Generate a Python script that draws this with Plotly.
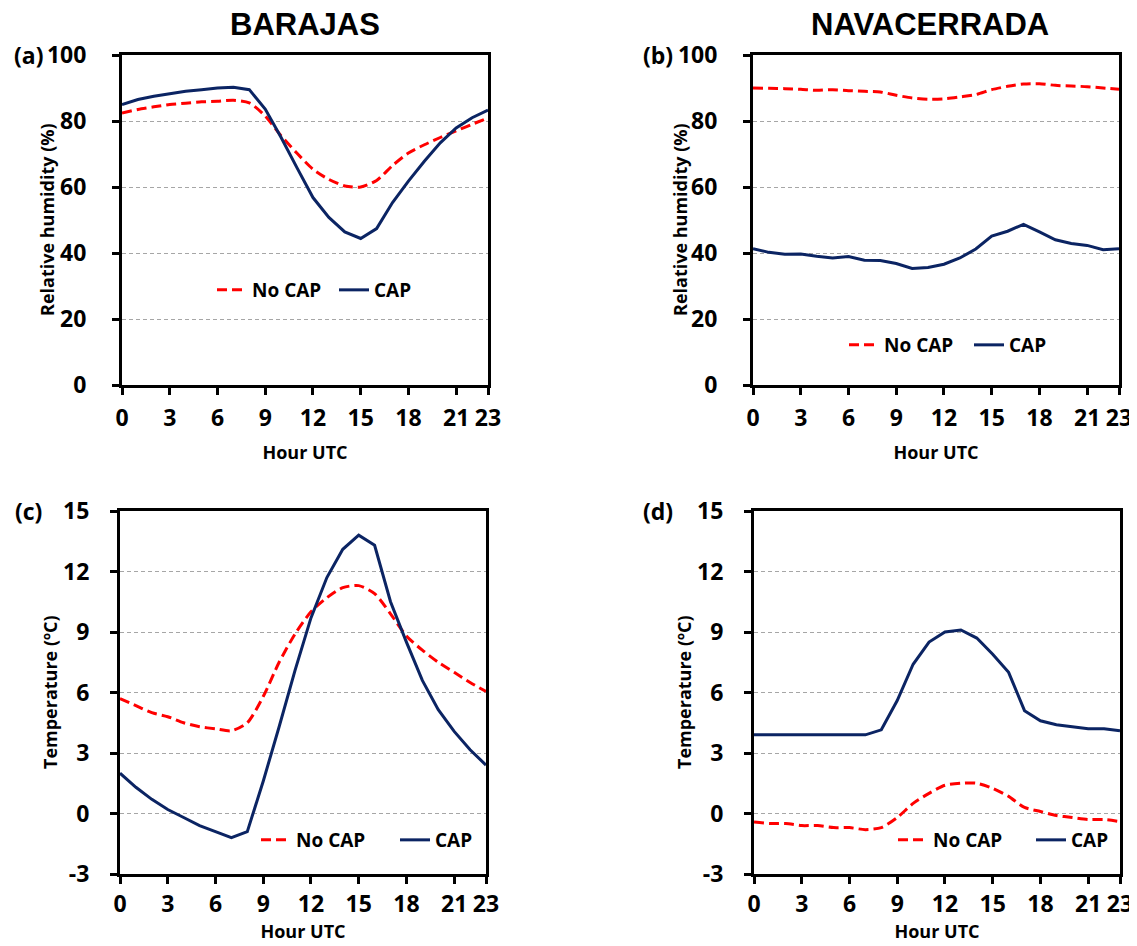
import plotly.graph_objects as go

# ---------------- data ----------------
hours = list(range(24))
x_tick_vals = [0, 3, 6, 9, 12, 15, 18, 21, 23]
rh_tick_vals = [0, 20, 40, 60, 80, 100]
t_tick_vals = [-3, 0, 3, 6, 9, 12, 15]

station_titles = ["BARAJAS", "NAVACERRADA"]
panel_labels = ["(a)", "(b)", "(c)", "(d)"]
series_names = ["No CAP", "CAP"]
x_title = "Hour UTC"
rh_title = "Relative humidity (%)"
t_title = "Temperature (ºC)"

barajas_rh_nocap = [82.4, 83.5, 84.3, 85.0, 85.4, 85.8, 86.0, 86.3, 85.5, 81.5, 75.5, 70.2,
                    65.4, 62.3, 60.3, 60.0, 62.0, 66.5, 70.3, 72.8, 75.0, 77.0, 79.0, 80.9]
barajas_rh_cap = [85.0, 86.5, 87.5, 88.3, 89.0, 89.5, 90.0, 90.2, 89.5, 83.6, 75.0, 65.8,
                  56.8, 50.8, 46.4, 44.4, 47.4, 55.3, 61.8, 67.8, 73.4, 77.9, 81.0, 83.3]

nava_rh_nocap = [90.0, 89.9, 89.8, 89.6, 89.3, 89.5, 89.2, 89.0, 88.8, 87.8, 87.0, 86.6,
                 86.7, 87.3, 88.0, 89.5, 90.5, 91.2, 91.3, 90.8, 90.6, 90.4, 90.0, 89.6]
nava_rh_cap = [41.3, 40.2, 39.6, 39.7, 39.0, 38.5, 38.9, 37.8, 37.7, 36.8, 35.3, 35.6,
               36.6, 38.5, 41.2, 45.1, 46.6, 48.7, 46.4, 44.0, 42.9, 42.3, 41.0, 41.3]

barajas_t_nocap = [5.7, 5.35, 5.0, 4.8, 4.5, 4.3, 4.2, 4.1, 4.5, 5.8, 7.5, 8.9,
                   10.0, 10.7, 11.2, 11.3, 10.9, 9.9, 8.8, 8.1, 7.5, 7.0, 6.5, 6.05]
barajas_t_cap = [2.0, 1.3, 0.7, 0.2, -0.2, -0.6, -0.9, -1.2, -0.9, 1.6, 4.3, 7.1,
                 9.7, 11.7, 13.1, 13.8, 13.3, 10.5, 8.5, 6.6, 5.15, 4.07, 3.16, 2.4]

nava_t_nocap = [-0.42, -0.5, -0.5, -0.6, -0.6, -0.7, -0.7, -0.8, -0.7, -0.2, 0.5, 1.0,
                1.4, 1.5, 1.5, 1.25, 0.85, 0.3, 0.1, -0.1, -0.2, -0.3, -0.3, -0.4]
nava_t_cap = [3.9, 3.9, 3.9, 3.9, 3.9, 3.9, 3.9, 3.9, 4.15, 5.6, 7.4, 8.5,
              9.0, 9.1, 8.7, 7.9, 7.0, 5.1, 4.6, 4.4, 4.3, 4.2, 4.2, 4.1]

# ---------------- styling ----------------
# The page body has an 8px margin, so the figure is sized to fill the window
# and every page-pixel position is shifted by that offset.
PAGE_W, PAGE_H = 1137, 946
OFF = 8
W, H = PAGE_W - OFF, PAGE_H - OFF
RED = "#FF0000"
NAVY = "#0B2463"
FONT = "Open Sans"
TITLE_FONT = "Liberation Sans"


def px_x(a):
    return (a - OFF) / W


def px_y(a):
    return 1 - (a - OFF) / H


def dx(a, b):
    return [px_x(a), px_x(b)]


def dy(top, bottom):
    return [px_y(bottom), px_y(top)]


fig = go.Figure()

panels = [
    # (nocap, cap, xaxis, yaxis, legend)
    (barajas_rh_nocap, barajas_rh_cap, "x", "y", "legend"),
    (nava_rh_nocap, nava_rh_cap, "x2", "y2", "legend2"),
    (barajas_t_nocap, barajas_t_cap, "x3", "y3", "legend3"),
    (nava_t_nocap, nava_t_cap, "x4", "y4", "legend4"),
]

for nocap, cap, xa, ya, lg in panels:
    fig.add_trace(go.Scatter(
        x=hours, y=nocap, mode="lines", name=series_names[0],
        line=dict(color=RED, width=3, dash="10px,5px", shape="spline", smoothing=0.7),
        xaxis=xa, yaxis=ya, legend=lg))
    fig.add_trace(go.Scatter(
        x=hours, y=cap, mode="lines", name=series_names[1],
        line=dict(color=NAVY, width=3),
        xaxis=xa, yaxis=ya, legend=lg))

tick_font = dict(family=FONT, size=23, color="black", weight="bold")
title_font = dict(family=FONT, size=18, color="black", weight="bold")


def xaxis_cfg(domain, anchor, standoff_lbl, title_standoff):
    return dict(
        domain=domain, anchor=anchor, range=[0, 23],
        tickmode="array", tickvals=x_tick_vals,
        ticks="outside", ticklen=7, tickwidth=2.5, tickcolor="black",
        showline=True, linewidth=3, linecolor="black", mirror=True,
        showgrid=False, zeroline=False,
        tickfont=tick_font, ticklabelstandoff=standoff_lbl,
        title=dict(text=x_title, font=title_font, standoff=title_standoff),
    )


def yaxis_cfg(domain, anchor, rng, vals, lbl_standoff):
    return dict(
        domain=domain, anchor=anchor, range=rng,
        tickmode="array", tickvals=vals, ticktext=[str(v) for v in vals],
        ticks="outside", ticklen=7, tickwidth=2.5, tickcolor="black",
        showline=True, linewidth=3, linecolor="black", mirror=True,
        showgrid=True, gridcolor="#A6A6A6", gridwidth=1, griddash="4px,3px",
        zeroline=False,
        tickfont=tick_font, ticklabelstandoff=lbl_standoff,
    )


legend_common = dict(orientation="h", xanchor="center", yanchor="middle",
                     bgcolor="rgba(0,0,0,0)",
                     font=dict(family=FONT, size=19, color="black", weight="bold"),
                     itemwidth=30, tracegroupgap=0)

fig.update_layout(
    width=W, height=H,
    margin=dict(l=0, r=0, t=0, b=0, autoexpand=False),
    paper_bgcolor="white", plot_bgcolor="white",
    showlegend=True,
    xaxis=xaxis_cfg(dx(122, 488), "y", 3, 15),
    yaxis=yaxis_cfg(dy(55, 385), "x", [0, 100], rh_tick_vals, 21),
    xaxis2=xaxis_cfg(dx(753, 1119), "y2", 3, 15),
    yaxis2=yaxis_cfg(dy(55, 385), "x2", [0, 100], rh_tick_vals, 21),
    xaxis3=xaxis_cfg(dx(120, 486), "y3", 0, 6),
    yaxis3=yaxis_cfg(dy(511, 874), "x3", [-3, 15], t_tick_vals, 16),
    xaxis4=xaxis_cfg(dx(754, 1120), "y4", 0, 6),
    yaxis4=yaxis_cfg(dy(511, 874), "x4", [-3, 15], t_tick_vals, 16),
    legend=dict(legend_common, x=px_x(334), y=px_y(290), entrywidth=77),
    legend2=dict(legend_common, x=px_x(969), y=px_y(345), entrywidth=80),
    legend3=dict(legend_common, x=px_x(395), y=px_y(840), entrywidth=94),
    legend4=dict(legend_common, x=px_x(1031), y=px_y(840), entrywidth=93),
)

annotations = [
    dict(text=station_titles[0], x=px_x(305), y=px_y(25)),
    dict(text=station_titles[1], x=px_x(930), y=px_y(25)),
]
for a in annotations:
    a.update(xref="paper", yref="paper", showarrow=False, xanchor="center", yanchor="middle",
             font=dict(family=TITLE_FONT, size=31, color="black", weight="bold"))

label_pos = [(28, 55), (658, 55), (28, 511), (658, 511)]
for lbl, (px, py) in zip(panel_labels, label_pos):
    annotations.append(dict(text=lbl, x=px_x(px), y=px_y(py), xref="paper", yref="paper",
                            showarrow=False, xanchor="center", yanchor="middle",
                            font=dict(family=FONT, size=23, color="black", weight="bold")))

# y-axis titles (rotated), one per panel
ytitle_pos = [(rh_title, 47, 220), (rh_title, 680, 220), (t_title, 50, 692), (t_title, 684, 692)]
for txt, px, py in ytitle_pos:
    annotations.append(dict(text=txt, x=px_x(px), y=px_y(py), xref="paper", yref="paper",
                            showarrow=False, xanchor="center", yanchor="middle", textangle=-90,
                            font=title_font))

fig.update_layout(annotations=annotations)

fig.write_html("out.html")
